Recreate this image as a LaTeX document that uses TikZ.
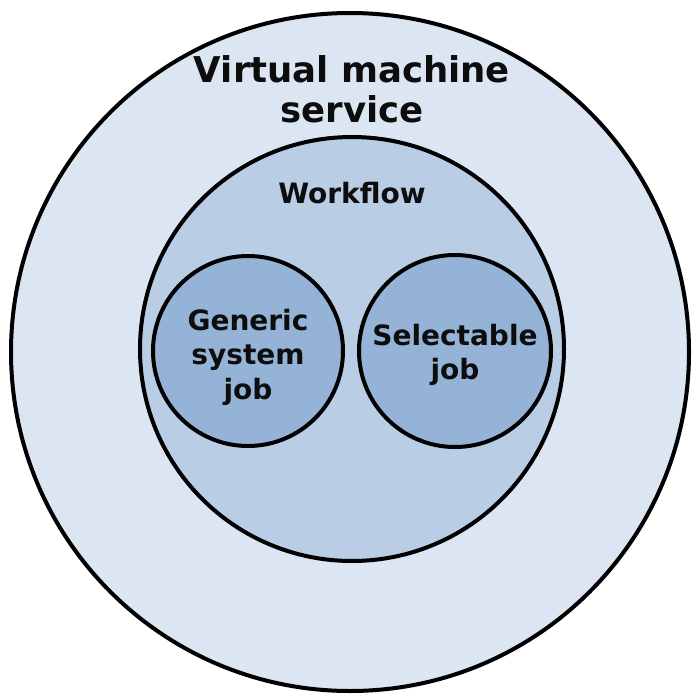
\documentclass[tikz,border=0pt]{standalone}
\usepackage{fontspec}
\setmainfont{DejaVu Sans}
\definecolor{outerfill}{HTML}{DCE6F2}
\definecolor{midfill}{HTML}{B9CDE5}
\definecolor{innerfill}{HTML}{95B3D7}
\tikzset{
  ring/.style={circle, draw=black, line width=4pt, inner sep=0pt},
  lbl/.style={align=center, font=\bfseries\fontsize{28}{34.5}\selectfont, inner sep=0pt, text=black!95},
}
\begin{document}
\begin{tikzpicture}[x=1pt,y=-1pt]
\useasboundingbox (0,0) rectangle (691,696);
\node[ring, fill=outerfill, minimum size=678pt] (vm) at (350,352) {};
\node[ring, fill=midfill, minimum size=424pt] (wf) at (352,349) {};
\node[ring, fill=innerfill, minimum size=190pt] (gen) at (248,351) {};
\node[ring, fill=innerfill, minimum size=192pt] (sel) at (455,351) {};
\node[lbl, font=\bfseries\fontsize{35.5}{40}\selectfont] (vmt) at (352,89) {Virtual machine\\service};
\node[lbl] (wft) at (352,193) {Workflow};
\node[lbl] (gent) at (248,357) {Generic\\system\\job};
\node[lbl] (selt) at (455,355) {Selectable\\job};
\end{tikzpicture}
\end{document}
